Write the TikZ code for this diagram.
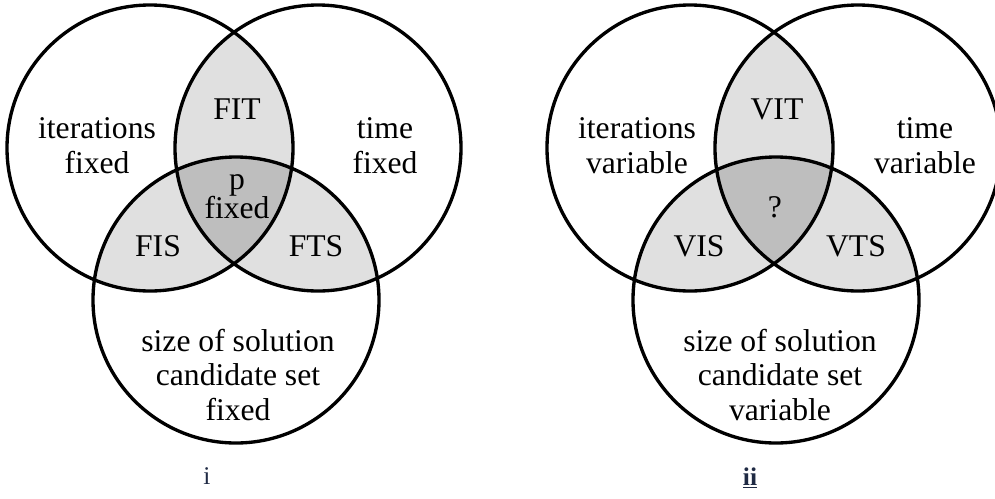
\documentclass[tikz,border=0pt]{standalone}
\usepackage{fontspec}
\setmainfont{Liberation Serif}

\definecolor{pairgray}{HTML}{E0E0E0}
\definecolor{coregray}{HTML}{BEBEBE}
\definecolor{captionblue}{HTML}{1F2A44}

\tikzset{
	setring/.style={draw=black, line width=1.9pt},
	settext/.style={font=\fontsize{18}{19.9}\selectfont, align=center, inner sep=0pt},
	caption/.style={font=\fontsize{14.5}{16}\selectfont, text=captionblue, inner sep=0pt}
}

\begin{document}
\begin{tikzpicture}[x=0.02cm, y=0.02cm]
	\useasboundingbox (0,0) rectangle (995,-498);

	% panel i: everything fixed
	\begin{scope}
		\coordinate (itI) at (150,-148);
		\coordinate (tmI) at (318,-148);
		\coordinate (szI) at (236,-300);

		% pairwise overlaps, then the triple overlap
		\begin{scope} \clip (itI) circle[radius=143]; \fill[pairgray] (tmI) circle[radius=143]; \end{scope}
		\begin{scope} \clip (itI) circle[radius=143]; \fill[pairgray] (szI) circle[radius=143]; \end{scope}
		\begin{scope} \clip (tmI) circle[radius=143]; \fill[pairgray] (szI) circle[radius=143]; \end{scope}
		\begin{scope}
			\clip (itI) circle[radius=143];
			\clip (tmI) circle[radius=143];
			\fill[coregray] (szI) circle[radius=143];
		\end{scope}

		\draw[setring] (itI) circle[radius=143];
		\draw[setring] (tmI) circle[radius=143];
		\draw[setring] (szI) circle[radius=143];

		\node[settext] (itLabelI)  at (97,-146)  {iterations\\fixed};
		\node[settext] (tmLabelI)  at (385,-146) {time\\fixed};
		\node[settext] (szLabelI)  at (238,-375) {size of solution\\candidate set\\fixed};
		\node[settext] (fitI)      at (237,-109) {FIT};
		\node[settext] (fisI)      at (158,-246) {FIS};
		\node[settext] (ftsI)      at (316,-246) {FTS};
		\node[settext] (coreI)     at (237,-197) {p\\[-3.4pt]fixed};
		\node[caption] (capI)      at (207,-476) {i};
	\end{scope}

	% panel ii: everything variable
	\begin{scope}[xshift=540*0.02cm]
		\coordinate (itII) at (150,-148);
		\coordinate (tmII) at (318,-148);
		\coordinate (szII) at (236,-300);

		\begin{scope} \clip (itII) circle[radius=143]; \fill[pairgray] (tmII) circle[radius=143]; \end{scope}
		\begin{scope} \clip (itII) circle[radius=143]; \fill[pairgray] (szII) circle[radius=143]; \end{scope}
		\begin{scope} \clip (tmII) circle[radius=143]; \fill[pairgray] (szII) circle[radius=143]; \end{scope}
		\begin{scope}
			\clip (itII) circle[radius=143];
			\clip (tmII) circle[radius=143];
			\fill[coregray] (szII) circle[radius=143];
		\end{scope}

		\draw[setring] (itII) circle[radius=143];
		\draw[setring] (tmII) circle[radius=143];
		\draw[setring] (szII) circle[radius=143];

		\node[settext] (itLabelII) at (97,-146)  {iterations\\variable};
		\node[settext] (tmLabelII) at (385,-146) {time\\variable};
		\node[settext] (szLabelII) at (240,-375) {size of solution\\candidate set\\variable};
		\node[settext] (vitII)     at (237,-109) {VIT};
		\node[settext] (visII)     at (159,-246) {VIS};
		\node[settext] (vtsII)     at (316,-246) {VTS};
		\node[settext] (coreII)    at (235,-207) {?};
		\node[caption] (capII)     at (210,-478) {\underline{\textbf{ii}}};
	\end{scope}
\end{tikzpicture}
\end{document}
